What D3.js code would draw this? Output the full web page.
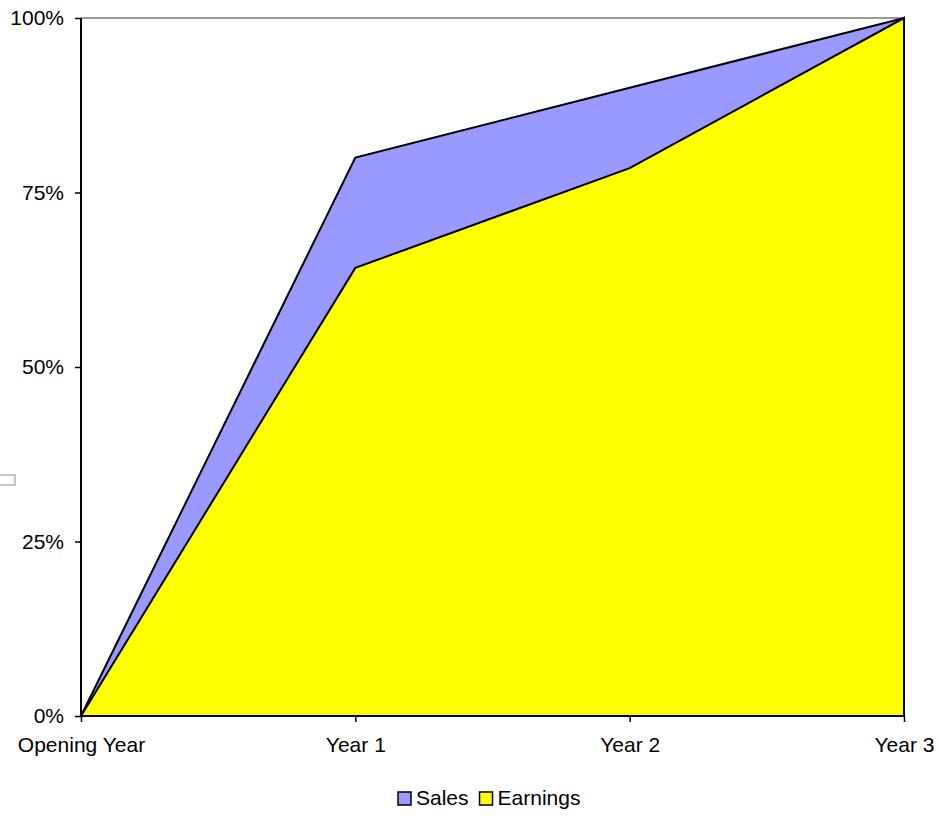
<!DOCTYPE html>
<html>
<head>
<meta charset="utf-8">
<script src="https://cdn.jsdelivr.net/npm/d3@7"></script>
<style>
html,body{margin:0;padding:0;background:#fff;}
svg{display:block;font-family:"Liberation Sans",Arial,sans-serif;}
</style>
</head>
<body>
<svg id="chart" width="939" height="824"></svg>
<script>
const categories = ["Opening Year", "Year 1", "Year 2", "Year 3"];
const salesValues = [0, 0.80, 0.90, 1.00];
const earningsValues = [0, 0.642, 0.785, 1.00];
const yTicks = [0, 0.25, 0.5, 0.75, 1];
const seriesNames = ["Sales", "Earnings"];
const seriesColors = ["#9999FF", "#FFFF00"];

(function () {
const svg = d3.select("#chart");
const pLeft = 81, pRight = 904, pTop = 18, pBottom = 716;
const fontSize = 21;

const x = d3.scalePoint().domain(categories).range([pLeft, pRight]).padding(0);
const y = d3.scaleLinear().domain([0, 1]).range([pBottom, pTop]);

// stray legend-like box at left edge
svg.append("rect").attr("x", -2).attr("y", 475).attr("width", 17).attr("height", 10)
  .attr("fill", "#fff").attr("stroke", "#c8c8c8").attr("stroke-width", 2);

// top border of plot area
svg.append("line").attr("x1", pLeft).attr("x2", pRight).attr("y1", pTop).attr("y2", pTop)
  .attr("stroke", "#999").attr("stroke-width", 2);

const area = d3.area()
  .x((d, i) => x(categories[i]))
  .y0(y(0))
  .y1(d => y(d));

const seriesData = [salesValues, earningsValues];
seriesData.forEach((vals, k) => {
  svg.append("path")
    .attr("d", area(vals))
    .attr("fill", seriesColors[k])
    .attr("stroke", "#000")
    .attr("stroke-width", 2)
    .attr("stroke-linejoin", "miter");
});

// y axis
const yAxis = d3.axisLeft(y).tickValues(yTicks).tickFormat(d3.format(".0%")).tickSize(6).tickPadding(11);
const gy = svg.append("g").attr("transform", `translate(${pLeft},0)`).call(yAxis);
gy.select(".domain").attr("stroke", "#000").attr("stroke-width", 2).attr("d", `M0,${pTop}V${pBottom}`);
gy.selectAll(".tick line").attr("stroke", "#000").attr("stroke-width", 1.5);
gy.selectAll(".tick text").attr("font-size", fontSize).attr("fill", "#000")
  .attr("font-family", "Liberation Sans, Arial, sans-serif");

// x axis
const xAxis = d3.axisBottom(x).tickSize(6).tickPadding(15);
const gx = svg.append("g").attr("transform", `translate(0,${pBottom})`).call(xAxis);
gx.select(".domain").attr("stroke", "#000").attr("stroke-width", 2).attr("d", `M${pLeft},0H${pRight}`);
gx.selectAll(".tick line").attr("stroke", "#000").attr("stroke-width", 1.5);
gx.selectAll(".tick text").attr("font-size", fontSize).attr("fill", "#000")
  .attr("font-family", "Liberation Sans, Arial, sans-serif");

// legend
const legend = svg.append("g").attr("transform", "translate(398,797)");
let lx = 0;
seriesNames.forEach((name, i) => {
  legend.append("rect").attr("x", lx).attr("y", -5).attr("width", 13).attr("height", 13)
    .attr("fill", seriesColors[i]).attr("stroke", "#000").attr("stroke-width", 1.5);
  const t = legend.append("text").attr("x", lx + 18).attr("y", 8)
    .attr("font-size", fontSize).attr("fill", "#000").text(name);
  lx += 18 + t.node().getComputedTextLength() + 11;
});
})();
</script>
</body>
</html>
